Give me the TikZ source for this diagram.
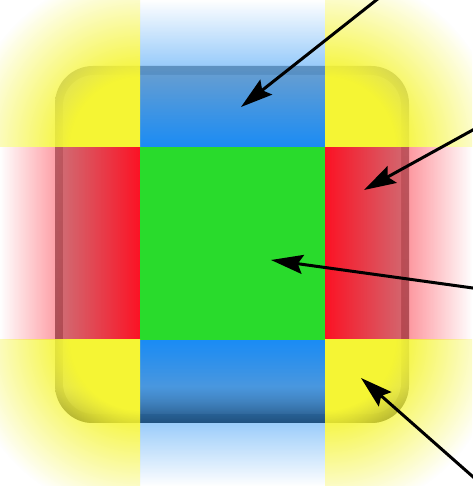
\documentclass[tikz,border=0pt]{standalone}
\usetikzlibrary{arrows.meta,fadings}
\definecolor{cgreen}{RGB}{41,219,44}
\definecolor{cred}{RGB}{252,18,36}
\definecolor{cblue}{RGB}{26,140,245}
\definecolor{cyel}{RGB}{245,245,52}
\definecolor{btnTop}{RGB}{150,150,150}
\definecolor{btnDark}{RGB}{112,112,112}
\definecolor{btnLight}{RGB}{176,176,176}
\definecolor{btnShadow}{RGB}{35,35,35}
\pgfdeclareradialshading{yradsh}{\pgfpoint{0bp}{0bp}}{color(0bp)=(white); color(5bp)=(white); color(12.5bp)=(black); color(50bp)=(black)}
\begin{tikzfadingfrompicture}[name=fleft]
\shade[left color=black, right color=white] (-25bp,-25bp) rectangle (25bp,25bp);
\end{tikzfadingfrompicture}
\begin{tikzfadingfrompicture}[name=fright]
\shade[left color=white, right color=black] (-25bp,-25bp) rectangle (25bp,25bp);
\end{tikzfadingfrompicture}
\begin{tikzfadingfrompicture}[name=ftop]
\shade[top color=black, bottom color=white] (-25bp,-25bp) rectangle (25bp,25bp);
\end{tikzfadingfrompicture}
\begin{tikzfadingfrompicture}[name=fbot]
\shade[top color=white, bottom color=black] (-25bp,-25bp) rectangle (25bp,25bp);
\end{tikzfadingfrompicture}
\begin{tikzfadingfrompicture}[name=yrad]
\shade[shading=yradsh] (-25bp,-25bp) rectangle (25bp,25bp);
\end{tikzfadingfrompicture}
\begin{document}
\begin{tikzpicture}[x=1pt,y=1pt,
  arr/.style={line width=3pt, -{Stealth[length=32pt,width=19pt,inset=5pt]}},
  btnshape/.style={rounded corners=38pt}]
\useasboundingbox[fill=white] (0,0) rectangle (472,486);
% button underneath
\shade[btnshape, top color=btnTop, bottom color=btnDark] (55,63) rectangle (409,420);
\fill[btnLight, rounded corners=31pt] (63,72) rectangle (401,411);
\begin{scope}
\clip[btnshape] (55,63) rectangle (409,420);
\fill[btnShadow, path fading=ftop] (55,63) rectangle (409,100);
\end{scope}
% nine slices
\fill[cgreen] (140,146) rectangle (325,339);
\fill[cblue, path fading=ftop] (140,339) rectangle (325,486);
\fill[cblue, path fading=fbot] (140,0) rectangle (325,146);
\fill[cred, path fading=fleft] (0,146) rectangle (140,339);
\fill[cred, path fading=fright] (325,146) rectangle (472,339);
\begin{scope}
\clip (0,339) rectangle (140,486);
\fill[cyel, path fading=yrad] (140,339) circle (350);
\end{scope}
\begin{scope}
\clip (325,339) rectangle (472,486);
\fill[cyel, path fading=yrad] (325,339) circle (350);
\end{scope}
\begin{scope}
\clip (0,0) rectangle (140,146);
\fill[cyel, path fading=yrad] (140,146) circle (350);
\end{scope}
\begin{scope}
\clip (325,0) rectangle (472,146);
\fill[cyel, path fading=yrad] (325,146) circle (350);
\end{scope}
% arrows
\coordinate (s1) at (384,492);
\coordinate (t1) at (241,379);
\coordinate (s2) at (480,360);
\coordinate (t2) at (364,296);
\coordinate (s3) at (480,197);
\coordinate (t3) at (271,226);
\coordinate (s4) at (480,3);
\coordinate (t4) at (361,108);
\draw[arr] (s1) -- (t1);
\draw[arr] (s2) -- (t2);
\draw[arr] (s3) -- (t3);
\draw[arr] (s4) -- (t4);
\end{tikzpicture}
\end{document}
